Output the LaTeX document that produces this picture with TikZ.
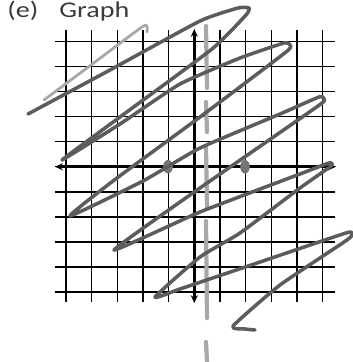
\documentclass[tikz,border=0pt]{standalone}
\usepackage{fontspec}
\setmainfont{Carlito}
\usetikzlibrary{arrows.meta,shapes.geometric}
\definecolor{pencil}{HTML}{5C5C5C}
\definecolor{pencilpale}{HTML}{A8A8A8}
\definecolor{inkgrey}{HTML}{3B3B3B}
\tikzset{
	gridline/.style={line width=1.1pt, black},
	axisline/.style={line width=1.8pt, black, <->},
	scribble/.style={pencil, line width=2.5pt, line cap=round, line join=round},
	%	scribble/.style={pencil, line width=2.6pt, rounded corners=5pt},
	paleline/.style={pencilpale, line width=3pt, line cap=round},
	holedot/.style={
		ellipse, fill=pencil!85, inner sep=0pt,
		minimum width=0.24cm, minimum height=0.34cm
	},
	>={Stealth[length=5.5pt,width=5pt]},
}

\begin{document}
\begin{tikzpicture}[x=0.025cm, y=-0.025cm]
\useasboundingbox (0,0) rectangle (353,362);
\node [anchor=base west, inner sep=0pt, text=inkgrey, font=\fontsize{16}{19}\selectfont] (title) at (7,17)
	{\scalebox{1.25}[1]{(e)\hspace*{0.75em}Graph}};

% grid
\foreach \k in {-5,...,5} {
	\draw [gridline] (194.3+25.66*\k,30) -- (194.3+25.66*\k,302);
	\draw [gridline] (55,166.7-25.05*\k) -- (335,166.7-25.05*\k);
}
% axes
\coordinate (xleft) at (55,166.7);
\coordinate (xright) at (336,166.7);
\coordinate (ytop) at (194.3,29);
\coordinate (ybottom) at (194.3,303);
\draw [axisline] (xleft) -- (xright);
\draw [axisline] (ytop) -- (ybottom);

% pencil asymptote
\foreach \ya/\yb in {26/88,102/132,147/207,221/318,342/362}
	\draw [paleline] (206,\ya) -- (207,\yb);

\node [holedot] (zeroa) at (168,166.7) {};
\node [holedot] (zerob) at (245,166.7) {};

% scribble
\draw [scribble, pencilpale, line width=2pt] plot [smooth, tension=0.4] coordinates {
	(44,100) (95,62) (142,27) (147,27) (147,32)};
\draw [scribble] plot [smooth, tension=0.3] coordinates {
	(28,114) (110,70) (200,21) (238,8) (249,8) (246,15) (212,49) (120,117) (62,160)
	(120,124) (180,84) (240,58) (284,43) (290,45) (286,52) (200,117) (113,181) (70,216)
	(143,181) (200,148) (280,114) (319,97) (324,99) (318,106) (200,188) (114,250)
	(200,212) (300,174) (329,163) (331,166) (300,188) (240,233) (200,257) (155,297)
	(180,289) (260,262) (346,233) (352,234) (347,240) (280,285) (233,326)
	(245,329) (255,330)};
\end{tikzpicture}
\end{document}
